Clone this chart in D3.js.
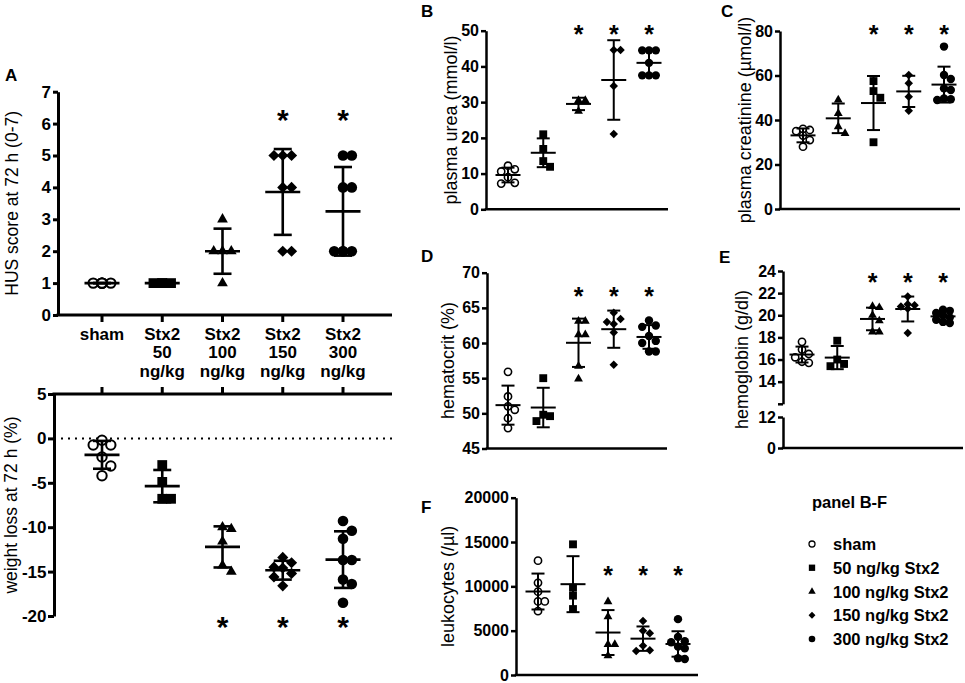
<!DOCTYPE html>
<html>
<head>
<meta charset="utf-8">
<script src="https://cdn.jsdelivr.net/npm/d3@7"></script>
<style>
  body { margin: 0; background: #fff; }
</style>
</head>
<body>
<svg id="fig" width="965" height="683"></svg>
<script>
// ---- data ----
const groups = ["sham", "Stx2 50", "Stx2 100", "Stx2 150", "Stx2 300"];
const groupTickLines = [["sham"], ["Stx2", "50", "ng/kg"], ["Stx2", "100", "ng/kg"], ["Stx2", "150", "ng/kg"], ["Stx2", "300", "ng/kg"]];
const legendLabels = ["sham", "50 ng/kg Stx2", "100 ng/kg Stx2", "150 ng/kg Stx2", "300 ng/kg Stx2"];
const groupShapes = ["openCircle", "square", "triangle", "diamond", "circle"];
const creatinineShapes = ["openCircle", "triangle", "square", "diamond", "circle"]; // as printed in panel C

const husScore = [[1, 1, 1, 1, 1, 1], [1, 1, 1, 1], [3, 2, 2, 2, 1], [5, 5, 5, 4, 4, 2, 2], [5, 5, 4, 4, 2, 2, 2, 2]];
const husSig = [0, 0, 0, 1, 1];
const weightLoss = [[-0.2, -0.75, -0.75, -2.1, -3.1, -4.2], [-3.0, -4.9, -6.8, -6.8], [-10.0, -10.2, -11.6, -14.3, -15.0],
  [-13.4, -14.0, -14.5, -14.6, -15.2, -15.6, -16.6], [-9.3, -10.4, -11.3, -13.7, -13.7, -15.9, -16.4, -18.5]];
const weightSig = [0, 0, 1, 1, 1];
const urea = [[12.2, 11.2, 10.6, 9.0, 7.4, 7.2], [21.0, 16.9, 13.5, 11.9], [30.5, 30.5, 27.5], [44.6, 44.6, 34.5, 21.1],
  [44.5, 44.5, 44.5, 41.0, 37.5, 37.5, 37.5]];
const creatinine = [[36, 35.5, 35, 33, 31, 28], [49, 43, 37, 34], [57.5, 53, 50, 30], [60.2, 56.5, 50.5, 44.2],
  [73, 58.4, 60.2, 54.2, 53.5, 49.7, 49, 49.3]];
const hematocrit = [[55.9, 52.4, 51.0, 50.5, 49.3, 47.9], [55.0, 49.8, 49.6, 48.9], [63.1, 63.1, 61.2, 61.2, 56.7, 54.9],
  [64.3, 63.4, 63.0, 62.7, 61.5, 56.9], [63.2, 62.5, 62.3, 61.0, 60.3, 60.0, 58.8, 58.8]];
const hemoglobin = [[17.6, 16.9, 16.5, 16.2, 15.8, 15.7], [17.7, 16.0, 15.6, 15.4], [20.8, 20.7, 20.0, 19.5, 18.5, 18.5],
  [21.7, 21.0, 20.9, 20.8, 20.6, 18.4], [20.5, 20.4, 20.2, 20.0, 19.8, 19.6, 19.4, 19.3]];
const leukocytes = [[12900, 10400, 9400, 8300, 8300, 7200], [14740, 9850, 8950, 7440], [8270, 6580, 3460, 3460, 2180],
  [6100, 5000, 4700, 3300, 2800, 2700], [6300, 4300, 3800, 3700, 3200, 3000, 1900, 1800]];
const sigBF = [0, 0, 1, 1, 1];

const husTicks = [0, 1, 2, 3, 4, 5, 6, 7];
const weightTicks = [5, 0, -5, -10, -15, -20];
const ureaTicks = [0, 10, 20, 30, 40, 50];
const creatinineTicks = [0, 20, 40, 60, 80];
const hematocritTicks = [45, 50, 55, 60, 65, 70];
const hemoglobinTicksHigh = [12, 14, 16, 18, 20, 22, 24];
const hemoglobinTicksLow = [0, 12];
const leukocyteTicks = [0, 5000, 10000, 15000, 20000];

// ---- drawing ----
const svg = d3.select("#fig");
const font = '"Liberation Sans", Arial, Helvetica, sans-serif';

const markA = { r: 5.3, open: 4.7, openW: 2, sq: 96, tri: 50, dia: 62, d: 11 };
const markBF = { r: 4.2, open: 3.6, openW: 1.6, sq: 62, tri: 34, dia: 36, d: 8.5 };
const markLeg = { r: 3.3, open: 3, openW: 1.3, sq: 40, tri: 24, dia: 24 };

function symbolPath(shape, m) {
  if (shape === "square") return d3.symbol(d3.symbolSquare, m.sq)();
  if (shape === "triangle") return d3.symbol(d3.symbolTriangle, m.tri)();
  if (shape === "diamond") return d3.symbol(d3.symbolSquare, m.dia)();
  const r = shape === "openCircle" ? m.open : m.r;
  return d3.symbol(d3.symbolCircle, Math.PI * r * r)();
}

function styleMarkers(sel, shape, m) {
  sel.attr("d", symbolPath(shape, m))
    .attr("transform", p => `translate(${p.cx},${p.cy})` + (shape === "diamond" ? " rotate(45)" : ""))
    .attr("fill", shape === "openCircle" ? "#fff" : "#000")
    .attr("stroke", shape === "openCircle" ? "#000" : "none")
    .attr("stroke-width", m.openW);
}

// simple beeswarm: spread points that would overlap sideways
function swarm(vals, y, d, maxOff) {
  const order = d3.range(vals.length).sort((a, b) => vals[b] - vals[a]);
  const placed = [];
  const out = new Array(vals.length);
  const step = d * 0.8;
  order.forEach(i => {
    const py = y(vals[i]);
    const cands = [0];
    for (let k = 1; k * step <= maxOff + 0.01; k++) cands.push(k * step, -k * step);
    let best = 0, bestScore = -Infinity;
    for (const c of cands) {
      const md = placed.length ? d3.min(placed, p => Math.hypot(p[0] - c, p[1] - py)) : Infinity;
      if (md >= d * 0.9) { best = c; break; }
      if (md > bestScore) { bestScore = md; best = c; }
    }
    placed.push([best, py]);
    out[i] = best;
  });
  return out;
}

function drawPanel(c) {
  const g = svg.append("g");
  const axes = c.axes || [{ scale: c.y, ticks: c.ticks }];
  axes.forEach(a => {
    const ax = d3.axisLeft(a.scale).tickValues(a.ticks).tickSize(c.tickLen).tickPadding(c.tickPad).tickSizeOuter(0)
      .tickFormat(a.format || (d => String(d)));
    const ga = g.append("g").attr("transform", `translate(${c.axisX},0)`).call(ax);
    ga.select(".domain").attr("stroke", "#000").attr("stroke-width", c.lw);
    ga.selectAll(".tick line").attr("stroke", "#000").attr("stroke-width", c.lw);
    ga.selectAll(".tick text").attr("font-family", font).attr("font-size", c.tickFont)
      .attr("font-weight", "bold").attr("fill", "#000");
  });

  // category axis line
  g.append("line")
    .attr("x1", c.axisX - c.lw / 2).attr("x2", c.xEnd)
    .attr("y1", c.baseY).attr("y2", c.baseY)
    .attr("stroke", "#000").attr("stroke-width", c.lw);
  if (c.xTicks) {
    const dir = c.xTicks === "down" ? 1 : -1;
    g.selectAll("line.xt").data(groups).join("line")
      .attr("x1", d => c.x(d)).attr("x2", d => c.x(d))
      .attr("y1", c.baseY).attr("y2", c.baseY + dir * 7)
      .attr("stroke", "#000").attr("stroke-width", c.lw);
  }
  if (c.zeroLine) {
    g.append("line")
      .attr("x1", c.axisX).attr("x2", c.xEnd)
      .attr("y1", c.y(0)).attr("y2", c.y(0))
      .attr("stroke", "#000").attr("stroke-width", 2).attr("stroke-dasharray", "2,5");
  }

  // points
  c.data.forEach((vals, i) => {
    const cx = c.x(groups[i]);
    const offs = swarm(vals, c.y, c.mark.d, c.maxOff);
    const pts = vals.map((v, j) => ({ cx: cx + offs[j], cy: c.y(v) }));
    g.append("g").selectAll("path").data(pts).join("path")
      .call(styleMarkers, c.shapes[i], c.mark);
  });

  // mean and SD
  const stats = c.data.map((vals, i) => ({
    x: c.x(groups[i]), m: d3.mean(vals), s: d3.deviation(vals) || 0
  }));
  const eb = g.append("g").attr("stroke", "#000").attr("stroke-width", c.ebw);
  eb.selectAll("line.mean").data(stats).join("line")
    .attr("x1", d => d.x - c.meanHalf).attr("x2", d => d.x + c.meanHalf)
    .attr("y1", d => c.y(d.m)).attr("y2", d => c.y(d.m));
  eb.selectAll("line.v").data(stats).join("line")
    .attr("x1", d => d.x).attr("x2", d => d.x)
    .attr("y1", d => c.y(d.m - d.s)).attr("y2", d => c.y(d.m + d.s));
  eb.selectAll("line.ct").data(stats).join("line")
    .attr("x1", d => d.x - c.capHalf).attr("x2", d => d.x + c.capHalf)
    .attr("y1", d => c.y(d.m + d.s)).attr("y2", d => c.y(d.m + d.s));
  eb.selectAll("line.cb").data(stats).join("line")
    .attr("x1", d => d.x - c.capHalf).attr("x2", d => d.x + c.capHalf)
    .attr("y1", d => c.y(d.m - d.s)).attr("y2", d => c.y(d.m - d.s));

  // significance asterisks
  g.selectAll("text.sig").data(groups.filter((d, i) => c.sig[i])).join("text")
    .attr("x", d => c.x(d))
    .attr("y", c.y(c.sigValue) + 0.57 * c.sigSize)
    .attr("text-anchor", "middle")
    .attr("font-family", font).attr("font-weight", "bold").attr("font-size", c.sigSize)
    .text("*");

  // axis title
  const ys = axes.flatMap(a => a.scale.range());
  const mid = (d3.min(ys) + d3.max(ys)) / 2;
  g.append("text")
    .attr("transform", `translate(${c.titleX},${mid}) rotate(-90)`)
    .attr("text-anchor", "middle").attr("dominant-baseline", "central")
    .attr("font-family", font).attr("font-size", c.titleSize)
    .text(c.title);

  if (c.letter) {
    g.append("text").attr("x", c.letter[1]).attr("y", c.letter[2])
      .attr("font-family", font).attr("font-weight", "bold").attr("font-size", 17)
      .text(c.letter[0]);
  }
  return g;
}

const styleA = { tickLen: 5, tickPad: 2, lw: 3, ebw: 2.6, tickFont: 17, titleSize: 17.5, mark: markA,
  meanHalf: 17.5, capHalf: 9, maxOff: 12, sigSize: 30 };
const styleBF = { tickLen: 5, tickPad: 2, lw: 2.5, ebw: 2, tickFont: 16, titleSize: 18, mark: markBF,
  meanHalf: 12.5, capHalf: 6.5, maxOff: 9, sigSize: 25 };

// Panel A: HUS score
const xA = d3.scalePoint().domain(groups).range([102, 343]);
const yHus = d3.scaleLinear().domain([0, 7]).range([315, 91.7]);
drawPanel(Object.assign({}, styleA, {
  y: yHus, ticks: husTicks, axisX: 58, x: xA, xEnd: 392, baseY: yHus(0), xTicks: "down",
  data: husScore, shapes: groupShapes, sig: husSig, sigValue: 6.35,
  title: "HUS score at 72 h (0-7)", titleX: 12, letter: ["A", 5, 81]
}));

// category labels of panel A
const labelG = svg.append("g").attr("font-family", font).attr("font-weight", "bold")
  .attr("font-size", 17).attr("text-anchor", "middle");
groups.forEach((gname, i) => {
  labelG.append("g").selectAll("text").data(groupTickLines[i]).join("text")
    .attr("x", xA(gname))
    .attr("y", (d, j) => 334 + j * 18.8)
    .attr("dominant-baseline", "central")
    .text(d => d);
});

// Panel A: weight loss
const yWeight = d3.scaleLinear().domain([5, -20]).range([394, 616]);
drawPanel(Object.assign({}, styleA, {
  tickLen: 6, tickPad: 1.5,
  y: yWeight, ticks: weightTicks, axisX: 54, x: xA, xEnd: 392, baseY: yWeight(5), xTicks: "up", zeroLine: true,
  data: weightLoss, shapes: groupShapes, sig: weightSig, sigValue: -20.4,
  title: "weight loss at 72 h (%)", titleX: 11
}));

// Panel B: urea
const xB = d3.scalePoint().domain(groups).range([508, 649]);
const yUrea = d3.scaleLinear().domain([0, 50]).range([209.3, 30.7]);
drawPanel(Object.assign({}, styleBF, {
  y: yUrea, ticks: ureaTicks, axisX: 486, x: xB, xEnd: 668, baseY: yUrea(0),
  data: urea, shapes: groupShapes, sig: sigBF, sigValue: 50.6,
  title: "plasma urea (mmol/l)", titleX: 451, letter: ["B", 421, 17]
}));

// Panel C: creatinine
const xC = d3.scalePoint().domain(groups).range([803, 944]);
const yCrea = d3.scaleLinear().domain([0, 80]).range([209, 31]);
drawPanel(Object.assign({}, styleBF, {
  y: yCrea, ticks: creatinineTicks, axisX: 780, x: xC, xEnd: 960, baseY: yCrea(0),
  data: creatinine, shapes: creatinineShapes, sig: sigBF, sigValue: 81,
  title: "plasma creatinine (\u00b5mol/l)", titleX: 745, letter: ["C", 721, 17]
}));

// Panel D: hematocrit
const yHct = d3.scaleLinear().domain([45, 70]).range([448.5, 272.7]);
drawPanel(Object.assign({}, styleBF, {
  y: yHct, ticks: hematocritTicks, axisX: 487, x: xB, xEnd: 667, baseY: yHct(45),
  data: hematocrit, shapes: groupShapes, sig: sigBF, sigValue: 67.5,
  title: "hematocrit (%)", titleX: 448, letter: ["D", 421, 262]
}));

// Panel E: hemoglobin, broken axis
const xE = d3.scalePoint().domain(groups).range([802, 943]);
const yHbHigh = d3.scaleLinear().domain([12, 24]).range([403.8, 271]);
const yHbLow = d3.scaleLinear().domain([0, 12]).range([448, 417]);
drawPanel(Object.assign({}, styleBF, {
  y: yHbHigh, axisX: 783, x: xE, xEnd: 963, baseY: yHbLow(0),
  axes: [
    { scale: yHbHigh, ticks: hemoglobinTicksHigh, format: d => (d === 12 ? "" : String(d)) },
    { scale: yHbLow, ticks: hemoglobinTicksLow }
  ],
  data: hemoglobin, shapes: groupShapes, sig: sigBF, sigValue: 23.45,
  title: "hemoglobin (g/dl)", titleX: 742, letter: ["E", 719, 263]
}));

// Panel F: leukocytes
const xF = d3.scalePoint().domain(groups).range([538, 678]);
const yLeu = d3.scaleLinear().domain([0, 20000]).range([675, 497.7]);
drawPanel(Object.assign({}, styleBF, {
  y: yLeu, ticks: leukocyteTicks, axisX: 516, x: xF, xEnd: 698, baseY: yLeu(0),
  data: leukocytes, shapes: groupShapes, sig: sigBF, sigValue: 11850,
  title: "leukocytes (/\u00b5l)", titleX: 448, letter: ["F", 421, 513]
}));

// Legend for panels B-F
const leg = svg.append("g").attr("font-family", font).attr("font-weight", "bold").attr("font-size", 16.5);
leg.append("text").attr("x", 812).attr("y", 502).attr("dominant-baseline", "central").text("panel B-F");
const yLeg = d3.scalePoint().domain(legendLabels).range([544, 639]);
legendLabels.forEach((lab, i) => {
  leg.append("path").datum({ cx: 812, cy: yLeg(lab) }).call(styleMarkers, groupShapes[i], markLeg);
  leg.append("text").attr("x", 833).attr("y", yLeg(lab)).attr("dominant-baseline", "central").text(lab);
});
</script>
</body>
</html>
